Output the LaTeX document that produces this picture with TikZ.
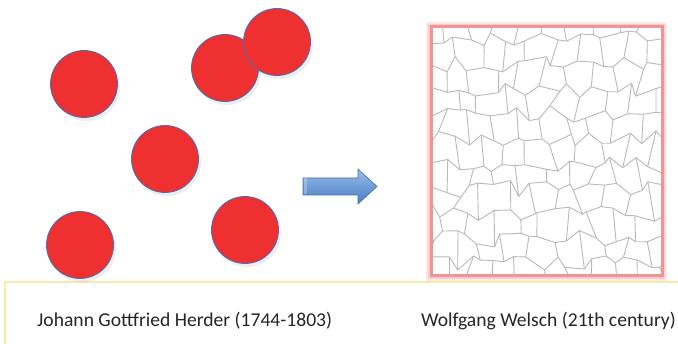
\documentclass[tikz,border=0pt]{standalone}
\usepackage{fontspec}
\setmainfont{Carlito}
\begin{document}
\begin{tikzpicture}[x=1pt,y=-1pt,
  ball/.style={circle, minimum size=67pt, inner sep=0pt, fill=ballred, draw=ballblue, line width=0.8pt},
  cellline/.style={draw=gray!55, line width=0.9pt, line join=round},
  caption/.style={font=\fontsize{19.6}{22}\selectfont, text=black!85, anchor=base west, inner sep=0pt},
  panelline/.style={draw=panelyellow, line width=1.2pt}]
\definecolor{ballred}{RGB}{238,48,48}
\definecolor{ballblue}{RGB}{70,110,180}
\definecolor{panelyellow}{RGB}{246,236,170}
\definecolor{arrowtop}{RGB}{150,190,235}
\definecolor{arrowbot}{RGB}{75,125,195}
\definecolor{arrowedge}{RGB}{70,110,175}
\definecolor{glow}{RGB}{240,120,120}
\useasboundingbox (0,0) rectangle (678,344);
\fill[white] (0,0) rectangle (678,344);
% bottom panel
\draw[panelline] (5,344) -- (5,282) -- (678,282);
% circles with faint shadow
\foreach \x/\y in {84/84, 225/68, 277/42, 165/159, 80/245, 245/230}{
  \fill[black, opacity=0.07] (\x+2,\y+3) circle (34);
}
\node[ball] (c1) at (84,84) {};
\node[ball] (c2) at (225,68) {};
\node[ball] (c3) at (277,42) {};
\node[ball] (c4) at (165,159) {};
\node[ball] (c5) at (80,245) {};
\node[ball] (c6) at (245,230) {};
% arrow
\shade[top color=arrowtop, bottom color=arrowbot, draw=arrowedge, line width=0.6pt]
  (303,178) -- (358,178) -- (358,169) -- (377,186.5) -- (358,204) -- (358,195) -- (303,195) -- cycle;
\fill[white, opacity=0.25] (303.5,178.5) rectangle (307,194.5);
% glowing frame
\draw[glow, opacity=0.15, line width=10pt] (431,27) rectangle (662,276);
\draw[glow, opacity=0.25, line width=6pt] (431,27) rectangle (662,276);
\fill[white] (431,27) rectangle (662,276);
% voronoi-like network
\begin{scope}
\clip (431,27) rectangle (662,276);
\pgfmathsetseed{31}
\foreach \j in {0,...,11}{
  \foreach \i in {0,...,21}{
    \pgfmathsetmacro\px{420+\i*12.2+6*rand}
    \pgfmathsetmacro\py{14+\j*25+8.5*rand}
    \coordinate (v-\i-\j) at (\px,\py);
  }
}
\foreach \j in {0,...,11}{
  \foreach \i in {0,...,20}{
    \pgfmathtruncatemacro\ii{\i+1}
    \draw[cellline] (v-\i-\j) -- (v-\ii-\j);
  }
}
\foreach \j in {0,...,10}{
  \foreach \i in {0,...,21}{
    \pgfmathtruncatemacro\jj{\j+1}
    \pgfmathtruncatemacro\pp{mod(\i+\j,2)}
    \ifnum\pp=0 \draw[cellline] (v-\i-\j) -- (v-\i-\jj);\fi
  }
}
\end{scope}
\draw[glow!80, line width=3pt] (431,27) rectangle (662,276);
% captions
\node[caption] (t1) at (37,327) {Johann Gottfried Herder (1744-1803)};
\node[caption] (t2) at (421,327) {Wolfgang Welsch (21th century)};
\end{tikzpicture}
\end{document}
